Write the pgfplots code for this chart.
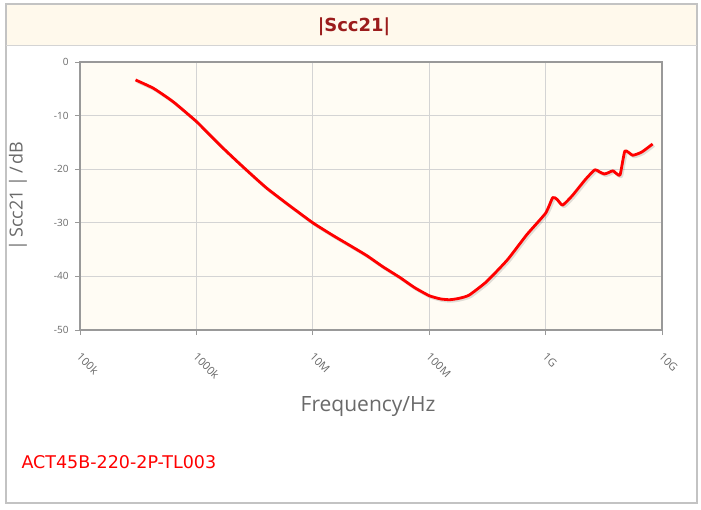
\documentclass[border=0pt]{standalone}
\usepackage{pgfplots}
\pgfplotsset{compat=1.18}
\usepackage{fontspec}
\setmainfont{DejaVu Sans}
\newfontfamily\opensans{Open Sans}
\definecolor{cream}{HTML}{FFF9EC}
\definecolor{plotbg}{HTML}{FFFCF4}
\definecolor{titlered}{HTML}{9B1C1C}
\definecolor{framegray}{HTML}{999999}
\definecolor{gridgray}{HTML}{D4D4D4}
\definecolor{labgray}{HTML}{6A6A6A}
\pgfplotstableread{
f db
3.0e5 -3.35
4.27e5 -4.9
6.3e5 -7.4
1.0e6 -11.1
1.3e6 -13.6
1.7e6 -16.1
2.2e6 -18.4
2.9e6 -20.8
4.0e6 -23.5
5.97e6 -26.4
1.0e7 -30.0
1.5e7 -32.4
2.0e7 -34.0
2.9e7 -36.1
4.0e7 -38.2
5.6e7 -40.2
7.5e7 -42.1
1.0e8 -43.6
1.25e8 -44.2
1.5e8 -44.35
1.8e8 -44.1
2.2e8 -43.5
3.1e8 -41.0
4.7e8 -36.9
6.9e8 -32.2
1.0e9 -28.2
1.15e9 -25.3
1.25e9 -25.6
1.4e9 -26.7
1.7e9 -24.9
2.2e9 -21.9
2.65e9 -20.1
2.9e9 -20.5
3.2e9 -20.9
3.5e9 -20.6
3.8e9 -20.3
4.35e9 -21.1
4.8e9 -16.6
5.6e9 -17.4
6.7e9 -16.8
8.3e9 -15.3
}\datatable
\begin{document}
\begin{tikzpicture}[x=1pt,y=1pt]
\useasboundingbox (0,0) rectangle (701,-510);
\fill[white] (0,0) rectangle (701,-510);
\draw[gridgray!80!gray, line width=1.2pt] (6,-4) rectangle (697,-503);
\fill[cream] (6.6,-4.6) rectangle (696.4,-46);
\draw[gridgray, line width=1pt] (6,-46) -- (697,-46);
\node[font=\bfseries\fontsize{18}{21}\selectfont, text=titlered] at (354,-27) {|Scc21|};
\begin{axis}[
  at={(80pt,-330pt)}, anchor=south west,
  scale only axis, width=582pt, height=268pt,
  xmode=log, xmin=1e5, xmax=1e10,
  ymin=-50, ymax=0,
  xtick={1e5,1e6,1e7,1e8,1e9,1e10},
  xticklabels={100k,1000k,10M,100M,1G,10G},
  ytick={-50,-40,-30,-20,-10,0},
  xminorticks=false, yminorticks=false,
  axis background/.style={fill=plotbg},
  grid=major,
  major grid style={gridgray, line width=1.3pt},
  axis line style={framegray, line width=2.2pt},
  tick style={framegray, line width=0.9pt},
  tick align=outside, tickpos=left,
  major tick length=5pt,
  x tick label style={font=\opensans\fontsize{11}{13}\selectfont, text=labgray, rotate=-45, anchor=north west, xshift=10pt, yshift=-7pt},
  y tick label style={font=\opensans\fontsize{10}{12}\selectfont, text=labgray, xshift=-3pt},
  /pgf/number format/assume math mode=true,
  xlabel={Frequency/Hz}, ylabel={|\,Scc21\,|\,/\,dB},
  xlabel style={font=\opensans\fontsize{21}{24}\selectfont, text=labgray, at={(axis description cs:0.495,0)}, anchor=center, yshift=-77pt},
  ylabel style={font=\opensans\fontsize{18}{21}\selectfont, text=labgray, at={(axis description cs:0,0.5)}, anchor=center, rotate=0, yshift=62pt},
  clip=false,
]
\addplot[black, opacity=0.12, line width=3pt, line join=round, smooth, tension=0.3, xshift=1.5pt, yshift=-1.5pt] table[x=f,y=db] {\datatable};
\addplot[red, line width=2.8pt, line join=round, smooth, tension=0.3] table[x=f,y=db] {\datatable};
\end{axis}
\node[anchor=west, text=red, font=\fontsize{17.5}{20}\selectfont] at (18,-462) {ACT45B-220-2P-TL003};
\end{tikzpicture}
\end{document}
